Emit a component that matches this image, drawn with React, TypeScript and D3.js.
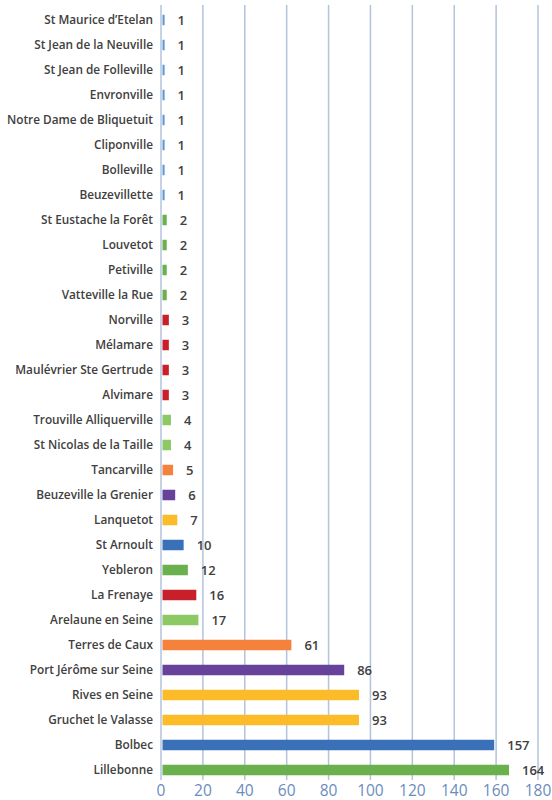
import React from "react";
import * as d3 from "d3";

const communes = [
  "St Maurice d’Etelan",
  "St Jean de la Neuville",
  "St Jean de Folleville",
  "Envronville",
  "Notre Dame de Bliquetuit",
  "Cliponville",
  "Bolleville",
  "Beuzevillette",
  "St Eustache la Forêt",
  "Louvetot",
  "Petiville",
  "Vatteville la Rue",
  "Norville",
  "Mélamare",
  "Maulévrier Ste Gertrude",
  "Alvimare",
  "Trouville Alliquerville",
  "St Nicolas de la Taille",
  "Tancarville",
  "Beuzeville la Grenier",
  "Lanquetot",
  "St Arnoult",
  "Yebleron",
  "La Frenaye",
  "Arelaune en Seine",
  "Terres de Caux",
  "Port Jérôme sur Seine",
  "Rives en Seine",
  "Gruchet le Valasse",
  "Bolbec",
  "Lillebonne",
];

const counts = [
  1, 1, 1, 1, 1, 1, 1, 1, 2, 2, 2, 2, 3, 3, 3, 3, 4, 4, 5, 6, 7, 10, 12, 16,
  17, 61, 86, 93, 93, 157, 164,
];

const barColors = [
  "#5b9bd5", "#5b9bd5", "#5b9bd5", "#5b9bd5", "#5b9bd5", "#5b9bd5", "#5b9bd5", "#5b9bd5",
  "#6ab04c", "#6ab04c", "#6ab04c", "#6ab04c",
  "#c8202a", "#c8202a", "#c8202a", "#c8202a",
  "#8cc864", "#8cc864",
  "#f4823c",
  "#66429a",
  "#fcbc2a",
  "#3a70b8",
  "#6ab04c",
  "#c8202a",
  "#8cc864",
  "#f4823c",
  "#66429a",
  "#fcbc2a",
  "#fcbc2a",
  "#3a70b8",
  "#6ab04c",
];

const xTicks = [0, 20, 40, 60, 80, 100, 120, 140, 160, 180];

const W = 552;
const H = 800;

export default function App() {
  const x = d3.scaleLinear().domain([0, 180]).range([161, 538]);
  // bars sit a touch to the right of the zero line and run a bit long
  const xb = d3.scaleLinear().domain([0, 164]).range([162.5, 509]);
  const y = d3
    .scaleBand<string>()
    .domain(communes)
    .range([7.5, 782.5])
    .paddingInner(0.58)
    .paddingOuter(0.29);

  const bw = y.bandwidth();

  return (
    <svg
      width={W}
      height={H}
      style={{ position: "absolute", left: 0, top: 0, background: "#fff" }}
      fontFamily="'Open Sans', 'Noto Sans', sans-serif"
    >
      {/* grid */}
      {xTicks.map((t) => (
        <line
          key={"g" + t}
          x1={x(t)}
          x2={x(t)}
          y1={5}
          y2={780}
          stroke="#b3c3dc"
          strokeWidth={1.5}
        />
      ))}

      {/* bars */}
      {communes.map((c, i) => (
        <rect
          key={c}
          x={xb(0)}
          y={y(c)!}
          width={xb(counts[i]) - xb(0)}
          height={bw}
          fill={barColors[i]}
        />
      ))}

      {/* category labels */}
      {communes.map((c) => (
        <text
          key={"l" + c}
          x={153}
          y={y(c)! + bw / 2}
          dy="0.36em"
          textAnchor="end"
          fontSize={11.8}
          fontWeight={600}
          fill="#404040"
        >
          {c}
        </text>
      ))}

      {/* value labels */}
      {communes.map((c, i) => (
        <text
          key={"v" + c}
          x={xb(counts[i]) + 13}
          y={y(c)! + bw / 2 + 0.5}
          dy="0.36em"
          fontSize={13}
          fontWeight={600}
          fill="#404040"
        >
          {counts[i]}
        </text>
      ))}

      {/* x axis labels */}
      {xTicks.map((t) => (
        <text
          key={"t" + t}
          x={x(t)}
          y={796}
          textAnchor="middle"
          fontSize={15.5}
          fill="#6a8cbe"
        >
          {t}
        </text>
      ))}
    </svg>
  );
}
